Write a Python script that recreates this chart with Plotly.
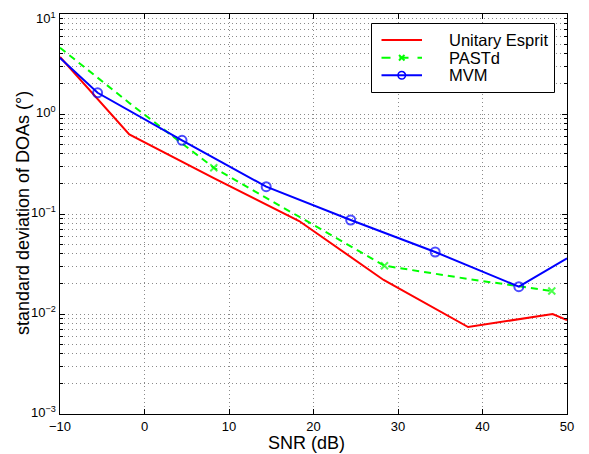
import math
import plotly.graph_objects as go

# Data
ue_snr = [-10, -1.8, 8.2, 18.3, 28.3, 38.3, 48.3, 50]
ue_std = [3.72, 0.626, 0.229, 0.0851, 0.0219, 0.00741, 0.0100, 0.0087]

pastd_snr = [-10, -1.8, 8.2, 18.3, 28.4, 38.3, 48.2]
pastd_std = [4.6, 1.29, 0.290, 0.093, 0.0304, 0.0224, 0.0170]
pastd_mark = [False, False, True, False, True, False, True]

mvm_snr = [-10, -5.55, 4.44, 14.4, 24.4, 34.4, 44.3, 50]
mvm_std = [3.63, 1.63, 0.546, 0.1875, 0.0871, 0.0417, 0.01875, 0.0361]
mvm_mark = [False, True, True, True, True, True, True, False]

series_names = ["Unitary Esprit", "PASTd", "MVM"]

x_ticks = [-10, 0, 10, 20, 30, 40, 50]
x_ticktext = ["−10", "0", "10", "20", "30", "40", "50"]
y_tickvals = [1e-3, 1e-2, 1e-1, 1e0, 1e1]
y_ticktext = ["10<sup>−3</sup>", "10<sup>−2</sup>", "10<sup>−1</sup>", "10<sup>0</sup>", "10<sup>1</sup>"]

FONT = "Arial"
OFF = 8  # default page body margin
W, H = 589 - OFF, 454 - OFF
ML, MT = 60 - OFF, 14 - OFF
PW, PH = 507, 400
MR, MB = W - ML - PW, H - MT - PH

RED, GREEN, BLUE = "#ff0000", "#00ff00", "#0000ff"

def px(x):  # page pixel -> paper x
    return (x - OFF - ML) / PW

def py(y):  # page pixel -> paper y
    return (MT + PH - (y - OFF)) / PH

fig = go.Figure()

fig.add_trace(go.Scatter(
    x=ue_snr, y=ue_std, mode="lines", name=series_names[0],
    line=dict(color=RED, width=2)))

fig.add_trace(go.Scatter(
    x=pastd_snr, y=pastd_std, mode="lines+markers", name=series_names[1],
    line=dict(color=GREEN, width=2, dash="7px,5px"),
    marker=dict(symbol="x-thin-open", size=[7 if m else 0 for m in pastd_mark],
                line=dict(color=GREEN, width=2), color=GREEN)))

fig.add_trace(go.Scatter(
    x=mvm_snr, y=mvm_std, mode="lines+markers", name=series_names[2],
    line=dict(color=BLUE, width=2),
    marker=dict(symbol="circle-open", size=[9 if m else 0 for m in mvm_mark],
                line=dict(color=BLUE, width=2), color=BLUE)))

grid_color = "#8a8a8a"
gdash = "1px,3px"

fig.update_xaxes(
    range=[-10, 50], tickvals=x_ticks, ticktext=x_ticktext,
    showline=True, linecolor="black", linewidth=1, mirror="allticks",
    ticks="inside", ticklen=5, tickcolor="black",
    showgrid=True, gridcolor=grid_color, griddash=gdash, gridwidth=1,
    zeroline=False, automargin=False,
    tickfont=dict(size=13, family=FONT, color="black"))

fig.update_yaxes(
    type="log", range=[-3, 1], tickvals=y_tickvals, showticklabels=False,
    showline=True, linecolor="black", linewidth=1, mirror="allticks",
    ticks="inside", ticklen=5, tickcolor="black",
    showgrid=True, gridcolor=grid_color, griddash=gdash, gridwidth=1,
    minor=dict(showgrid=True, gridcolor=grid_color, griddash=gdash, gridwidth=1,
               ticks="inside", ticklen=3, tickcolor="black",
               tickvals=[m * 10 ** e for e in range(-3, 1) for m in range(2, 10)]),
    zeroline=False, automargin=False)

annotations = []
# y tick labels (drawn as annotations so the top one is not dropped)
for i, (v, t) in enumerate(zip(y_tickvals, y_ticktext)):
    top = i == len(y_tickvals) - 1
    annotations.append(dict(text=t, x=px(57.5), y=math.log10(v), xref="paper", yref="y",
                            showarrow=False, xanchor="right",
                            yanchor="top" if top else "middle",
                            yshift=6 if top else 2,
                            font=dict(size=13, family=FONT, color="black")))

# Axis titles
annotations += [
    dict(text="SNR (dB)", x=px(306), y=py(443), xref="paper", yref="paper",
         showarrow=False, xanchor="center", yanchor="middle",
         font=dict(size=18, family=FONT, color="black")),
    dict(text="standard deviation of DOAs (°)", x=px(23), y=py(213), xref="paper", yref="paper",
         showarrow=False, xanchor="center", yanchor="middle", textangle=-90,
         font=dict(size=18, family=FONT, color="black")),
]

# Manual legend box (MATLAB-style)
shapes = [dict(type="rect", xref="paper", yref="paper",
               x0=px(371.5), x1=px(554.5), y0=py(92.5), y1=py(23.5),
               line=dict(color="black", width=1), fillcolor="white", layer="above")]
rows = [40, 57.7, 75.3]
styles = [(RED, "solid"), (GREEN, "dash"), (BLUE, "solid")]
for name, (col, dsh), ry in zip(series_names, styles, rows):
    shapes.append(dict(type="line", xref="paper", yref="paper",
                       x0=px(381.5), x1=px(422), y0=py(ry), y1=py(ry),
                       line=dict(color=col, width=2, dash=dsh), layer="above"))
    annotations.append(dict(text=name, x=px(447), y=py(ry), xref="paper", yref="paper",
                            showarrow=False, xanchor="left", yanchor="middle",
                            font=dict(size=16.5, family=FONT, color="black")))
# legend markers
shapes.append(dict(type="line", xref="paper", yref="paper",
                   x0=px(399), x1=px(404.5), y0=py(rows[1] - 2.75), y1=py(rows[1] + 2.75),
                   line=dict(color=GREEN, width=2), layer="above"))
shapes.append(dict(type="line", xref="paper", yref="paper",
                   x0=px(399), x1=px(404.5), y0=py(rows[1] + 2.75), y1=py(rows[1] - 2.75),
                   line=dict(color=GREEN, width=2), layer="above"))
shapes.append(dict(type="circle", xref="paper", yref="paper",
                   x0=px(398), x1=px(405.5), y0=py(rows[2] + 3.75), y1=py(rows[2] - 3.75),
                   line=dict(color=BLUE, width=1.5), layer="above"))

fig.update_layout(
    width=W, height=H,
    margin=dict(l=ML, r=MR, t=MT, b=MB, autoexpand=False),
    paper_bgcolor="white", plot_bgcolor="white",
    font=dict(family=FONT, color="black"),
    showlegend=False,
    annotations=annotations,
    shapes=shapes,
)

fig.write_html("out.html")
